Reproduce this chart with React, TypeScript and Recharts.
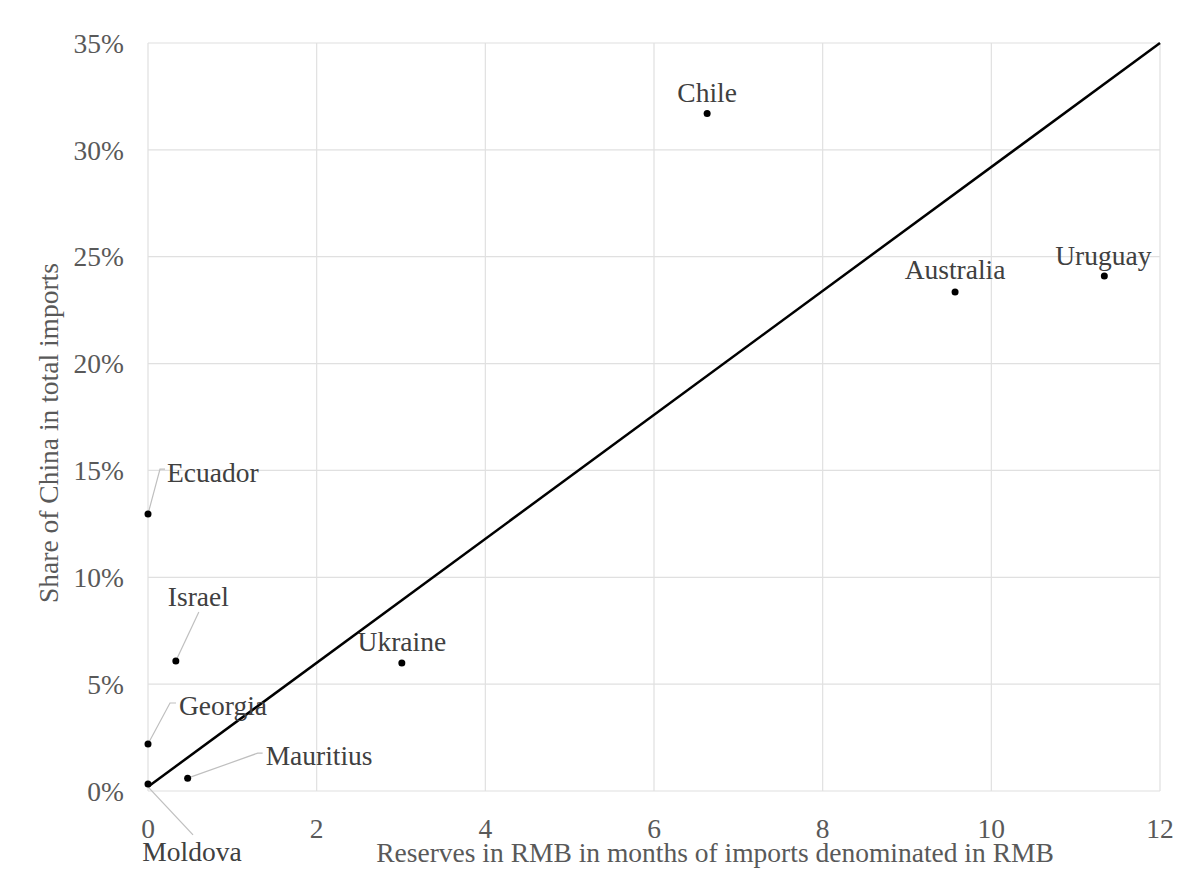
import React from 'react';
import { ScatterChart, Scatter, XAxis, YAxis, CartesianGrid, ReferenceLine } from 'recharts';

const countries = ['Chile', 'Australia', 'Uruguay', 'Ukraine', 'Ecuador', 'Israel', 'Georgia', 'Mauritius', 'Moldova'];
const reserveMonths = [6.63, 9.57, 11.34, 3.01, 0, 0.33, 0, 0.47, 0];
const chinaShare = [31.7, 23.35, 24.1, 5.99, 12.96, 6.08, 2.2, 0.6, 0.33];

const xTicks = [0, 2, 4, 6, 8, 10, 12];
const yTicks = [0, 5, 10, 15, 20, 25, 30, 35];

// fitted trend line end points (x in months, y in %)
const trendX = [0, 12];
const trendY = [0.2, 35];

const FONT = '"Liberation Serif", "Times New Roman", serif';
const FS = 27.5;

type LabelPlace = {
  dx: number;
  dy: number;
  anchor: 'start' | 'middle' | 'end';
  leader?: [number, number][];
};

// label offsets in pixels relative to each point
const labelPlaces: Record<string, LabelPlace> = {
  Chile: { dx: 0, dy: -21, anchor: 'middle' },
  Australia: { dx: 0, dy: -22, anchor: 'middle' },
  Uruguay: { dx: -1, dy: -20, anchor: 'middle' },
  Ukraine: { dx: 0, dy: -21, anchor: 'middle' },
  Ecuador: { dx: 19, dy: -42, anchor: 'start', leader: [[0, 0], [12, -45], [17, -45]] },
  Israel: { dx: -8, dy: -65, anchor: 'start', leader: [[0, 0], [23, -49]] },
  Georgia: { dx: 31, dy: -38, anchor: 'start', leader: [[0, 0], [22, -41], [28, -41]] },
  Mauritius: { dx: 78, dy: -23, anchor: 'start', leader: [[0, 0], [70, -25], [75, -25]] },
  Moldova: { dx: 44, dy: 68, anchor: 'middle', leader: [[0, 3], [45, 51]] },
};

const points = countries.map((name, i) => ({ name, x: reserveMonths[i], y: chinaShare[i] }));

const PointShape = (props: any) => {
  const { cx, cy, payload } = props;
  const place = labelPlaces[payload.name];
  return (
    <g>
      {place.leader && (
        <polyline
          points={place.leader.map(([a, b]) => `${cx + a},${cy + b}`).join(' ')}
          fill="none"
          stroke="#bfbfbf"
          strokeWidth={1.2}
        />
      )}
      <circle cx={cx} cy={cy} r={3.5} fill="#000" />
      <text
        x={cx + place.dx}
        y={cy + place.dy}
        textAnchor={place.anchor}
        dominantBaseline="central"
        fill="#404040"
        fontSize={FS}
        fontFamily={FONT}
      >
        {payload.name}
      </text>
    </g>
  );
};

const XTitle = (props: any) => {
  const { x, y, width } = props.viewBox;
  return (
    <text
      x={x + width / 2 + 61}
      y={y + 61}
      textAnchor="middle"
      dominantBaseline="central"
      fill="#595959"
      fontSize={FS}
      fontFamily={FONT}
    >
      Reserves in RMB in months of imports denominated in RMB
    </text>
  );
};

const YTitle = (props: any) => {
  const { x, y, height } = props.viewBox;
  const cx = x + 48;
  const cy = y + height / 2 + 16;
  return (
    <text
      x={cx}
      y={cy}
      transform={`rotate(-90 ${cx} ${cy})`}
      textAnchor="middle"
      dominantBaseline="central"
      fill="#595959"
      fontSize={FS}
      fontFamily={FONT}
    >
      Share of China in total imports
    </text>
  );
};

export default function App() {
  const tickStyle = { fill: '#595959', fontSize: FS, fontFamily: FONT };
  return (
    <div style={{ position: 'absolute', left: 0, top: 0, width: 1200, height: 880, background: '#fff' }}>
      <ScatterChart width={1200} height={880} margin={{ top: 43, right: 40, left: 0, bottom: 0 }}>
        <CartesianGrid stroke="#e0e0e0" strokeWidth={1.2} />
        <XAxis
          type="number"
          dataKey="x"
          domain={[0, 12]}
          ticks={xTicks}
          height={89}
          axisLine={false}
          tickLine={false}
          tickSize={0}
          tickMargin={27}
          tick={tickStyle}
          label={{ content: XTitle }}
        />
        <YAxis
          type="number"
          dataKey="y"
          domain={[0, 35]}
          ticks={yTicks}
          width={148}
          axisLine={false}
          tickLine={false}
          tickSize={0}
          tickMargin={24}
          tick={tickStyle}
          tickFormatter={(v) => `${v}%`}
          label={{ content: YTitle }}
        />
        <ReferenceLine
          segment={[
            { x: trendX[0], y: trendY[0] },
            { x: trendX[1], y: trendY[1] },
          ]}
          stroke="#000"
          strokeWidth={2.5}
        />
        <Scatter data={points} shape={PointShape} isAnimationActive={false} />
      </ScatterChart>
    </div>
  );
}
